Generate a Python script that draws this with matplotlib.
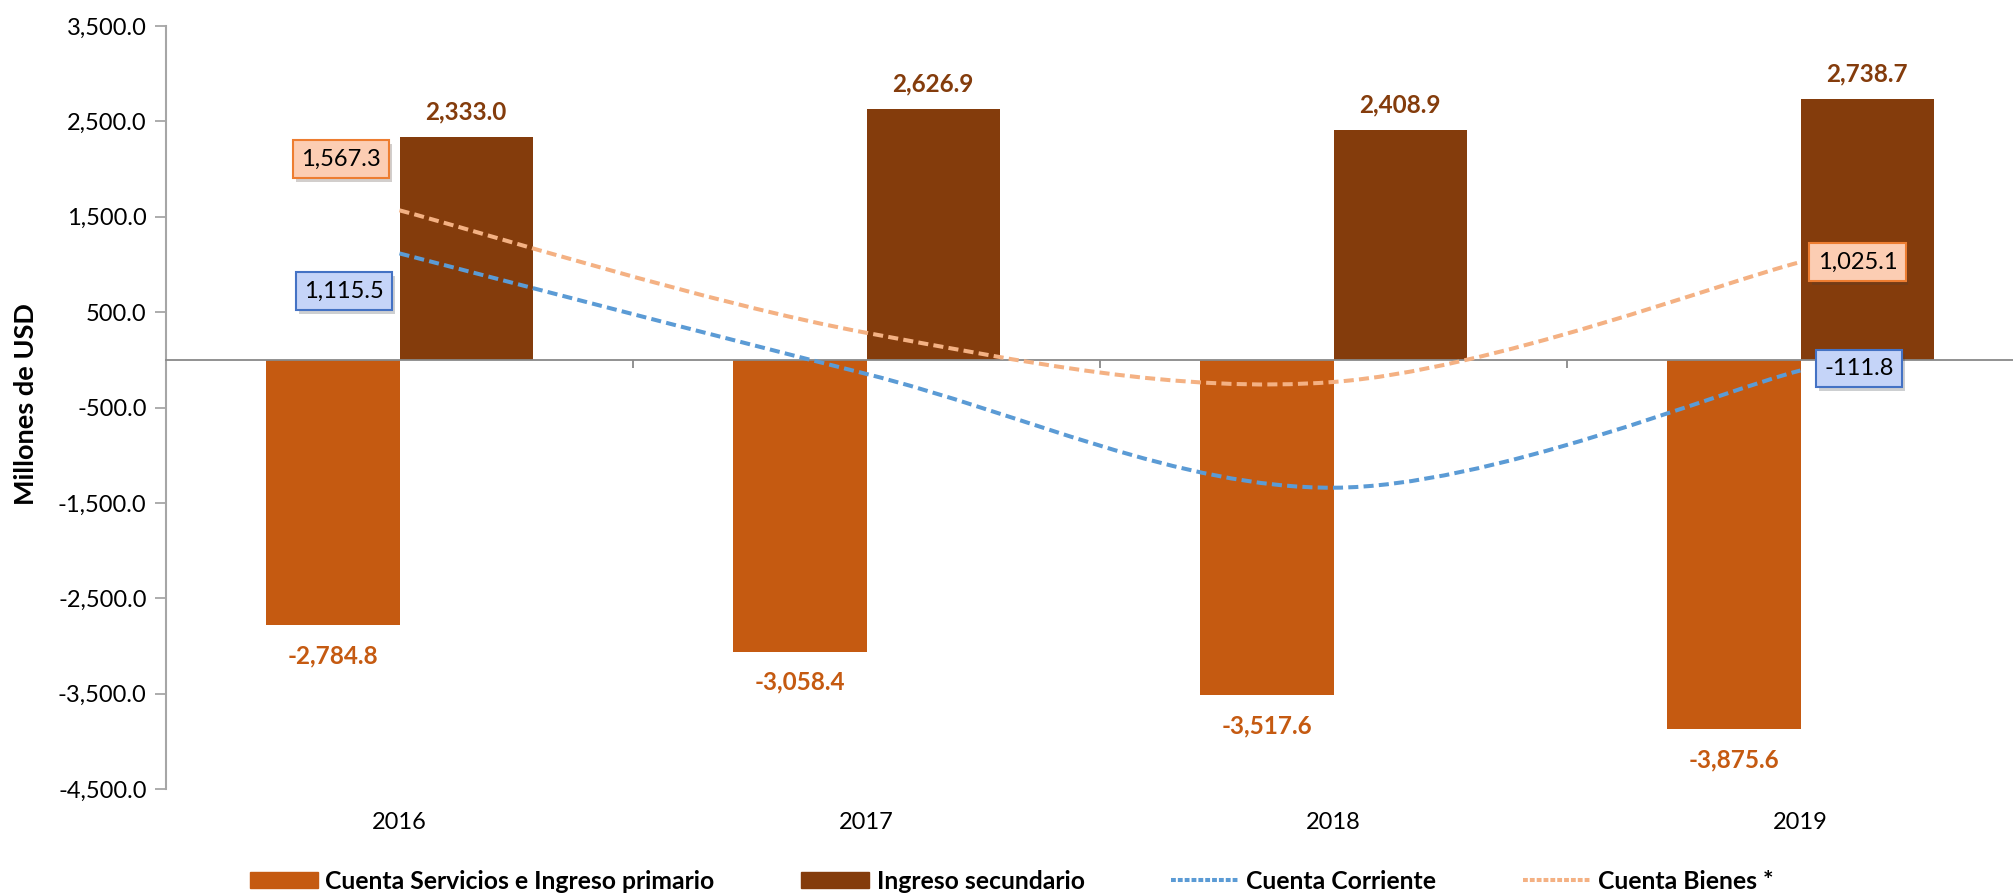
import numpy as np
import matplotlib
matplotlib.use("Agg")
import matplotlib.pyplot as plt
from matplotlib.path import Path
from matplotlib.patches import PathPatch, Patch
from matplotlib.lines import Line2D
from matplotlib.ticker import FuncFormatter
import matplotlib.transforms as mtransforms
import matplotlib.patheffects as pe

plt.rcParams['font.family'] = ['Lato', 'DejaVu Sans']

# datos
anios = ['2016', '2017', '2018', '2019']
servicios_primario = [-2784.8, -3058.4, -3517.6, -3875.6]
ingreso_secundario = [2333.0, 2626.9, 2408.9, 2738.7]
cuenta_corriente = [1115.5, -148.5, -1341.1, -111.8]
cuenta_bienes = [1567.3, 283.0, -232.4, 1025.1]

c_serv = '#C55A11'
c_sec = '#843C0C'
c_cc = '#5B9BD5'
c_bien = '#F4B183'

fig = plt.figure(figsize=(20.13, 8.93), dpi=100)
ax = fig.add_axes([166 / 2013, 104 / 893, 1868 / 2013, 763 / 893])

x = np.arange(len(anios))
w = 0.285
b1 = ax.bar(x - w / 2, servicios_primario, w, color=c_serv, label='Cuenta Servicios e Ingreso primario', zorder=2)
b2 = ax.bar(x + w / 2, ingreso_secundario, w, color=c_sec, label='Ingreso secundario', zorder=2)

# etiquetas de barras
for xi, v in zip(x, servicios_primario):
    ax.annotate(f"{v:,.1f}", (xi - w / 2, v), xytext=(0, -22), textcoords='offset points',
                ha='center', va='center', fontsize=17.5, fontweight='bold', color=c_serv)
for xi, v in zip(x, ingreso_secundario):
    ax.annotate(f"{v:,.1f}", (xi + w / 2, v), xytext=(0, 18), textcoords='offset points',
                ha='center', va='center', fontsize=17.5, fontweight='bold', color=c_sec)


def curva_suave(xs, ys):
    # curva suavizada tipo Excel (bezier cubica)
    pts = np.column_stack([xs, ys]).astype(float)
    n = len(pts)
    verts = [pts[0]]
    codes = [Path.MOVETO]
    for i in range(n - 1):
        p0 = pts[i - 1] if i > 0 else pts[i]
        p1 = pts[i]
        p2 = pts[i + 1]
        p3 = pts[i + 2] if i + 2 < n else pts[i + 1]
        verts += [p1 + (p2 - p0) / 6, p2 - (p3 - p1) / 6, p2]
        codes += [Path.CURVE4] * 3
    return Path(verts, codes)


for serie, col in [(cuenta_bienes, c_bien), (cuenta_corriente, c_cc)]:
    pp = PathPatch(curva_suave(x, serie), fill=False, edgecolor=col, lw=2.9,
                   linestyle=(0, (2.5, 1.3)), zorder=3)
    ax.add_patch(pp)

# etiquetas de las lineas
cajas = [
    (cuenta_bienes, 0, (-42, 37), '#FCCDB3', '#ED7D31'),
    (cuenta_corriente, 0, (-40, -27), '#C5D4F8', '#4472C4'),
    (cuenta_bienes, 3, (41, 0), '#FCCDB3', '#ED7D31'),
    (cuenta_corriente, 3, (42, 1.5), '#C5D4F8', '#4472C4'),
]
for serie, i, off, fc, ec in cajas:
    t = ax.annotate(f"{serie[i]:,.1f}", (x[i], serie[i]), xytext=off, textcoords='offset points',
                    ha='center', va='center', fontsize=17, color='black', zorder=5,
                    bbox=dict(boxstyle='square,pad=0.35', fc=fc, ec=ec, lw=1.5))
    t.get_bbox_patch().set_path_effects([pe.SimplePatchShadow(offset=(2, -3), alpha=0.25), pe.Normal()])

# ejes
ax.set_xlim(-0.5, 3.5)
ax.set_ylim(-4500, 3500)
ax.set_yticks(np.arange(-4500, 3501, 1000))
ax.yaxis.set_major_formatter(FuncFormatter(lambda v, p: f"{v:,.1f}"))
ax.tick_params(axis='y', labelsize=17, length=8, width=1.3, color='#A6A6A6', pad=6)
for s in ['top', 'right']:
    ax.spines[s].set_visible(False)
ax.spines['left'].set_color('#A6A6A6')
ax.spines['left'].set_linewidth(1.5)
ax.spines['bottom'].set_position(('data', 0))
ax.spines['bottom'].set_color('#898989')
ax.spines['bottom'].set_linewidth(1.3)
ax.spines['bottom'].set_zorder(2.5)
ax.set_xticks([0.5, 1.5, 2.5, 3.5])
ax.set_xticklabels([])
ax.tick_params(axis='x', length=6, width=1.3, color='#898989', direction='out')

trans = mtransforms.blended_transform_factory(ax.transData, ax.transAxes)
for xi, a in zip(x, anios):
    ax.text(xi, -0.0433, a, transform=trans, ha='center', va='center', fontsize=17)

fig.text(26 / 2013, 1 - 404 / 893, 'Millones de USD', rotation=90, ha='center', va='center',
         fontsize=19.5, fontweight='bold')

handles = [
    Patch(color=c_serv),
    Patch(color=c_sec),
    Line2D([], [], color=c_cc, lw=2.9, linestyle=(0, (1.2, 0.5))),
    Line2D([], [], color=c_bien, lw=2.9, linestyle=(0, (1.2, 0.5))),
]
labels = ['Cuenta Servicios e Ingreso primario', 'Ingreso secundario', 'Cuenta Corriente', 'Cuenta Bienes *']
fig.legend(handles, labels, loc='center', bbox_to_anchor=(0.5027, 0.0134), ncol=4, frameon=False,
           prop={'size': 17.8, 'weight': 'bold'}, handlelength=2.75, handleheight=0.65,
           handletextpad=0.3, columnspacing=3.5, borderpad=0.1)

fig.savefig('out.png', dpi=100)
